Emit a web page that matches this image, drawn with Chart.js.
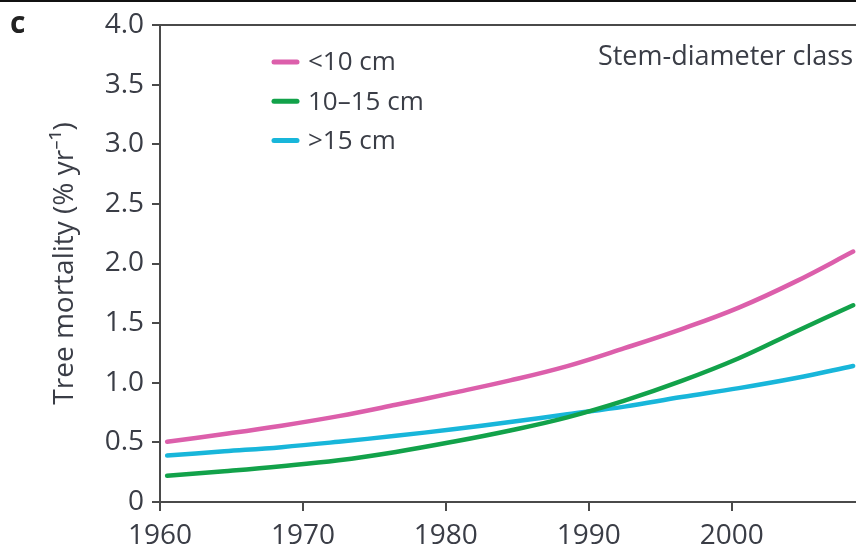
<!DOCTYPE html>
<html>
<head>
<meta charset="utf-8">
<script src="https://cdn.jsdelivr.net/npm/chart.js@4/dist/chart.umd.min.js"></script>
<style>
  html, body { margin: 0; padding: 0; background: #fff; }
  #wrap { width: 856px; height: 548px; position: relative; }
</style>
</head>
<body>
<div id="wrap"><canvas id="c" width="856" height="548"></canvas></div>
<script>
// Tree mortality by stem-diameter class, 1960–2008
const years = [1960.5, 1964.5, 1968.5, 1972.5, 1976.5, 1980.5, 1984.5, 1988.5, 1992.5, 1996.5, 2000.5, 2004.5, 2008.5];
const under10 = [0.505, 0.57, 0.64, 0.72, 0.815, 0.915, 1.02, 1.14, 1.29, 1.45, 1.63, 1.85, 2.10];
const from10to15 = [0.22, 0.258, 0.30, 0.35, 0.42, 0.505, 0.60, 0.71, 0.85, 1.015, 1.205, 1.43, 1.65];
const over15 = [0.39, 0.425, 0.46, 0.505, 0.555, 0.61, 0.67, 0.735, 0.80, 0.88, 0.955, 1.04, 1.14];

const seriesLabels = ['<10 cm', '10\u201315 cm', '>15 cm'];
const xTicks = [1960, 1970, 1980, 1990, 2000];
const yTicks = [0, 0.5, 1.0, 1.5, 2.0, 2.5, 3.0, 3.5, 4.0];

const TEXT = '#3a3d46';
const AXIS = '#4a4a4a';
const FONT = '"Open Sans", "Noto Sans", sans-serif';

const pts = vals => vals.map((v, i) => ({ x: years[i], y: v }));

const lineStyle = color => ({
  borderColor: color,
  backgroundColor: color,
  borderWidth: 4.5,
  borderCapStyle: 'round',
  pointRadius: 0,
  tension: 0.4,
  fill: false
});

// Frame line, panel letter, in-plot legend and class heading
const decorations = {
  id: 'decorations',
  afterDraw(chart) {
    const { ctx, chartArea } = chart;
    const yScale = chart.scales.y;
    ctx.save();
    // page rule across the very top
    ctx.strokeStyle = '#111';
    ctx.lineWidth = 2;
    ctx.beginPath();
    ctx.moveTo(0, 1);
    ctx.lineTo(chart.width, 1);
    ctx.stroke();
    // top frame of the plot
    ctx.strokeStyle = AXIS;
    ctx.lineWidth = 2;
    ctx.beginPath();
    ctx.moveTo(chartArea.left, yScale.getPixelForValue(4.0));
    ctx.lineTo(chartArea.right, yScale.getPixelForValue(4.0));
    ctx.stroke();
    // panel letter
    ctx.fillStyle = '#222';
    ctx.font = 'bold 30px ' + FONT;
    ctx.textBaseline = 'alphabetic';
    ctx.textAlign = 'left';
    ctx.fillText('c', 10, 33);
    // heading
    ctx.fillStyle = TEXT;
    ctx.font = '27px ' + FONT;
    ctx.textAlign = 'right';
    ctx.textBaseline = 'middle';
    ctx.fillText('Stem-diameter class', chartArea.right - 3, 57);
    // legend
    ctx.font = '26px ' + FONT;
    ctx.textAlign = 'left';
    chart.data.datasets.forEach((ds, i) => {
      const y = 62 + i * 39.3;
      ctx.strokeStyle = ds.borderColor;
      ctx.lineWidth = 5;
      ctx.lineCap = 'round';
      ctx.beginPath();
      ctx.moveTo(274, y);
      ctx.lineTo(297, y);
      ctx.stroke();
      ctx.fillStyle = TEXT;
      ctx.fillText(ds.label, 308, y + 1);
    });
    ctx.restore();
  }
};

new Chart(document.getElementById('c'), {
  type: 'line',
  data: {
    datasets: [
      { label: seriesLabels[0], data: pts(under10), ...lineStyle('#dc5fab') },
      { label: seriesLabels[1], data: pts(from10to15), ...lineStyle('#12a24a') },
      { label: seriesLabels[2], data: pts(over15), ...lineStyle('#18b6da') }
    ]
  },
  options: {
    responsive: false,
    animation: false,
    layout: { padding: { top: 25, right: 0, bottom: 0, left: 0 } },
    plugins: { legend: { display: false }, tooltip: { enabled: false } },
    scales: {
      x: {
        type: 'linear',
        min: 1960,
        max: 2008.7,
        afterFit(scale) { scale.height = 46; },
        afterBuildTicks(scale) { scale.ticks = xTicks.map(v => ({ value: v })); },
        ticks: {
          color: TEXT,
          font: { family: FONT, size: 28 },
          padding: 8,
          maxRotation: 0,
          autoSkip: false,
          callback: v => String(v)
        },
        grid: { drawOnChartArea: false, drawTicks: true, tickLength: 9, color: AXIS, lineWidth: 2 },
        border: { display: true, color: AXIS, width: 2 }
      },
      y: {
        type: 'linear',
        min: 0,
        max: 4.0,
        afterFit(scale) { scale.width = 160; },
        afterBuildTicks(scale) { scale.ticks = yTicks.map(v => ({ value: v })); },
        ticks: {
          color: TEXT,
          font: { family: FONT, size: 28 },
          padding: 8,
          autoSkip: false,
          callback: v => (v === 0 ? '0' : v.toFixed(1))
        },
        grid: { drawOnChartArea: false, drawTicks: true, tickLength: 8, color: AXIS, lineWidth: 2 },
        border: { display: true, color: AXIS, width: 2 },
        title: {
          display: true,
          text: 'Tree mortality (% yr\u207B\u00B9)',
          color: TEXT,
          font: { family: FONT, size: 28 },
          padding: { top: 48, bottom: 0 }
        }
      }
    }
  },
  plugins: [decorations]
});
</script>
</body>
</html>
